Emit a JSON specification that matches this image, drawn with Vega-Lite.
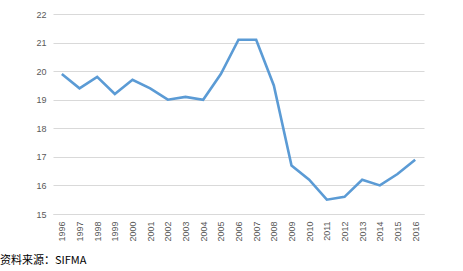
{
  "$schema": "https://vega.github.io/schema/vega-lite/v6.json",
  "autosize": "none",
  "width": 371,
  "height": 200,
  "padding": {"left": 53, "top": 14, "right": 39, "bottom": 57},
  "background": "white",
  "data": {"values": [
    {"year": "1996", "v": 19.9}, {"year": "1997", "v": 19.4}, {"year": "1998", "v": 19.8},
    {"year": "1999", "v": 19.2}, {"year": "2000", "v": 19.7}, {"year": "2001", "v": 19.4},
    {"year": "2002", "v": 19.0}, {"year": "2003", "v": 19.1}, {"year": "2004", "v": 19.0},
    {"year": "2005", "v": 19.9}, {"year": "2006", "v": 21.1}, {"year": "2007", "v": 21.1},
    {"year": "2008", "v": 19.5}, {"year": "2009", "v": 16.7}, {"year": "2010", "v": 16.2},
    {"year": "2011", "v": 15.5}, {"year": "2012", "v": 15.6}, {"year": "2013", "v": 16.2},
    {"year": "2014", "v": 16.0}, {"year": "2015", "v": 16.4}, {"year": "2016", "v": 16.9}
  ]},
  "title": {
    "text": "资料来源：SIFMA",
    "orient": "bottom",
    "anchor": "start",
    "frame": "group",
    "dx": -53,
    "offset": 14,
    "font": "Noto Sans CJK SC",
    "fontSize": 11,
    "fontWeight": "normal",
    "color": "#000000"
  },
  "mark": {"type": "line", "color": "#5b9bd5", "strokeWidth": 2.6},
  "encoding": {
    "x": {
      "field": "year", "type": "ordinal", "title": null,
      "scale": {"type": "point", "padding": 0.5},
      "axis": {"labelAngle": -90, "labelAlign": "right", "labelBaseline": "middle", "ticks": false,
               "domain": true, "domainColor": "#d9d9d9", "labelPadding": 7,
               "labelFont": "Liberation Sans", "labelFontSize": 9, "labelColor": "#595959"}
    },
    "y": {
      "field": "v", "type": "quantitative", "title": null,
      "scale": {"domain": [15, 22], "nice": false, "zero": false},
      "axis": {"values": [15, 16, 17, 18, 19, 20, 21, 22], "ticks": false, "domain": false,
               "gridColor": "#d9d9d9", "gridWidth": 1, "labelPadding": 7,
               "labelFont": "Liberation Sans", "labelFontSize": 9, "labelColor": "#595959"}
    }
  },
  "config": {"view": {"stroke": null}}
}
